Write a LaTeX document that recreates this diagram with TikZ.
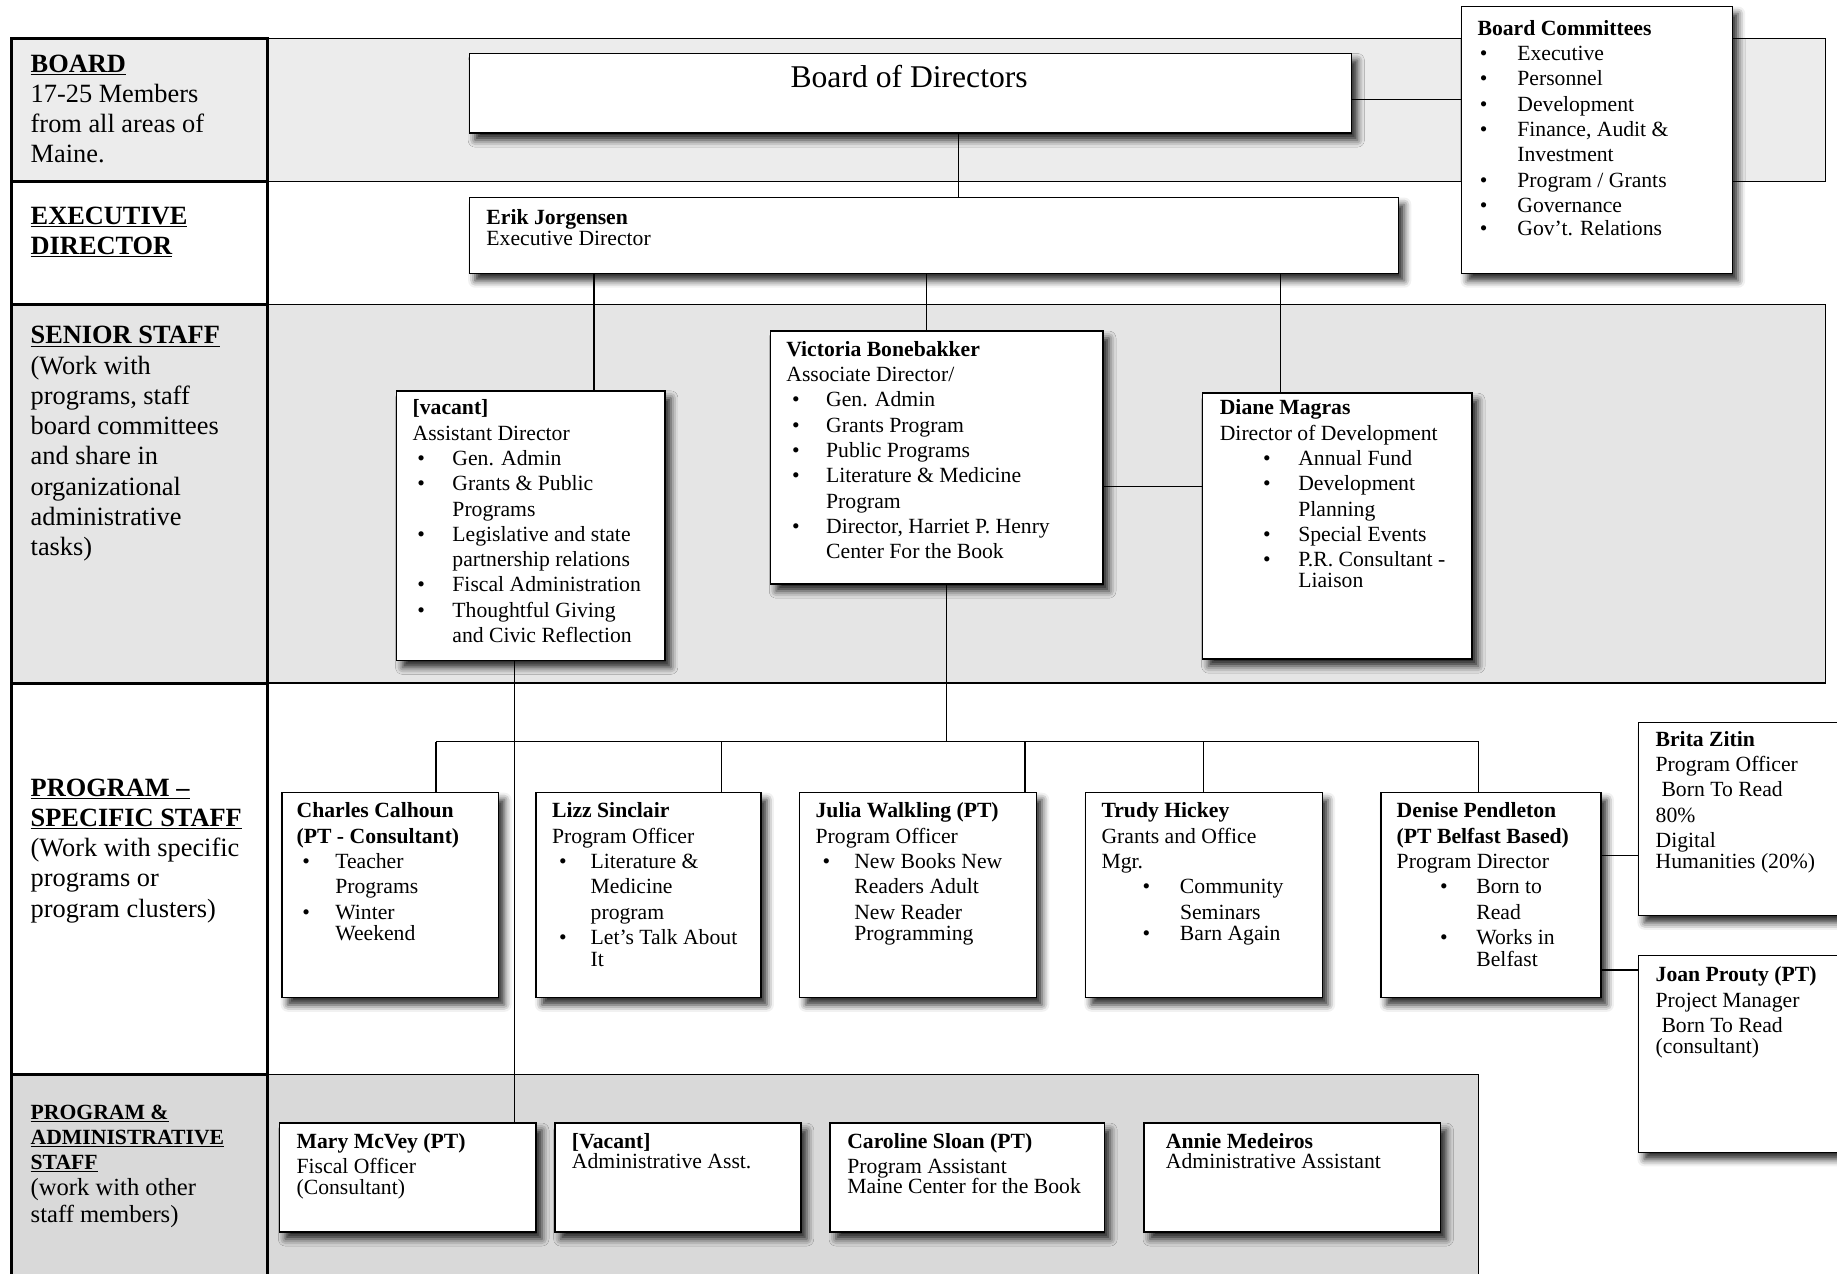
\documentclass[tikz,border=0pt]{standalone}
\usepackage{fontspec}
\setmainfont{Liberation Serif}
\usetikzlibrary{shadows,shadows.blur,calc}
\newcommand{\bu}[2]{\hspace*{#1pt}\makebox[\dimexpr#2pt-#1pt\relax][l]{\textbullet}}
\newcommand{\ii}[1]{\hspace*{#1pt}}
\tikzset{
  chartbox/.style={draw=black, line width=1.2pt, fill=white, rectangle, inner sep=0pt, anchor=north west,
    blur shadow={shadow xshift=5pt, shadow yshift=-6pt, shadow blur radius=6pt, shadow opacity=85}},
  boxtext/.style={anchor=north west, inner sep=0pt, align=left, font=\fontsize{18.5}{21.6}\selectfont},
  labeltext/.style={anchor=north west, inner sep=0pt, align=left, font=\fontsize{22.5}{25.8}\selectfont},
  conn/.style={line width=1.2pt},
  thickrule/.style={line width=2.6pt},
  rowrule/.style={line width=1.3pt},
}
\begin{document}
\begin{tikzpicture}[x=1pt,y=-1pt]
\useasboundingbox (0,0) rectangle (1568,1087);
% bands
\fill[gray!15] (10,33) rectangle (1558,155);
\fill[gray!20] (10,260) rectangle (1558,583);
\fill[gray!30] (10,917) rectangle (1262,1087);
% grid
\draw[rowrule] (228,33) -- (1558,33) -- (1558,155) -- (228,155);
\draw[rowrule] (228,260) -- (1558,260) -- (1558,583) -- (228,583);
\draw[rowrule] (228,917) -- (1262,917) -- (1262,1087);
\draw[thickrule] (10,1087) -- (10,33) -- (228,33) -- (228,1087);
\foreach \y in {155,260,583,917} \draw[thickrule] (10,\y) -- (228,\y);
% left labels
\node[labeltext] (lboard) at (26,46.5) {\textbf{\underline{BOARD}}\\17-25 Members\\from all areas of\\Maine.};
\node[labeltext] (lexec) at (26,176.5) {\textbf{\underline{EXECUTIVE}}\\\textbf{\underline{DIRECTOR}}};
\node[labeltext] (lsenior) at (26,278.5) {\textbf{\underline{SENIOR STAFF}}\\(Work with\\programs, staff\\board committees\\and share in\\organizational\\administrative\\tasks)};
\node[labeltext] (lprog) at (26,664.5) {\textbf{\underline{PROGRAM –}}\\\textbf{\underline{SPECIFIC STAFF}}\\(Work with specific\\programs or\\program clusters)};
\node[anchor=north west, inner sep=0pt, align=left, font=\fontsize{18.5}{21.5}\selectfont\bfseries] (ladminh) at (26,943) {\underline{PROGRAM \&}\\\underline{ADMINISTRATIVE}\\\underline{STAFF}};
\node[anchor=north west, inner sep=0pt, align=left, font=\fontsize{21}{23}\selectfont] (ladmind) at (26,1006) {(work with other\\staff members)};
% coordinates for connectors
\coordinate (xa) at (818,0);
\coordinate (yc) at (0,85);
\coordinate (xe1) at (507,0);
\coordinate (xe2) at (791,0);
\coordinate (xe3) at (1093,0);
\coordinate (yvd) at (0,415);
\coordinate (xm) at (439,0);
\coordinate (xv) at (808,0);
\coordinate (bar) at (0,633);
\coordinate (xc) at (372,0);
\coordinate (xl) at (616,0);
\coordinate (xj) at (875,0);
\coordinate (xt) at (1027,0);
\coordinate (xd) at (1262,0);
\coordinate (yb) at (0,730);
\coordinate (yj) at (0,828);
% boxes
\node[chartbox, minimum width=753pt, minimum height=68pt] (bod) at (400,45) {};
\node[chartbox, minimum width=793pt, minimum height=65pt] (exec) at (400,168) {};
\draw[conn] (bod.south -| xa) -- (exec.north -| xa);
\node[chartbox, minimum width=231pt, minimum height=228pt] (comm) at (1247,5) {};
\draw[conn] (bod.east |- yc) -- (comm.west |- yc);
\node[chartbox, minimum width=229pt, minimum height=230pt] (vacant) at (338,333) {};
\node[chartbox, minimum width=284pt, minimum height=216pt] (victoria) at (657,282) {};
\node[chartbox, minimum width=230pt, minimum height=227pt] (diane) at (1026,335) {};
\draw[conn] (exec.south -| xe1) -- (vacant.north -| xe1);
\draw[conn] (exec.south -| xe2) -- (victoria.north -| xe2);
\draw[conn] (exec.south -| xe3) -- (diane.north -| xe3);
\draw[conn] (victoria.east |- yvd) -- (diane.west |- yvd);
\node[chartbox, minimum width=185pt, minimum height=175pt] (charles) at (240,676) {};
\node[chartbox, minimum width=192pt, minimum height=175pt] (lizz) at (457,676) {};
\node[chartbox, minimum width=202pt, minimum height=175pt] (julia) at (682,676) {};
\node[chartbox, minimum width=202pt, minimum height=175pt] (trudy) at (926,676) {};
\node[chartbox, minimum width=188pt, minimum height=175pt] (denise) at (1178,676) {};
\node[chartbox, minimum width=200pt, minimum height=165pt] (brita) at (1398,616) {};
\node[chartbox, minimum width=200pt, minimum height=168pt] (joan) at (1398,815) {};
\node[chartbox, minimum width=219pt, minimum height=93pt] (mary) at (238,958) {};
\node[chartbox, minimum width=210pt, minimum height=93pt] (vacant2) at (473,958) {};
\node[chartbox, minimum width=234pt, minimum height=93pt] (caroline) at (708,958) {};
\node[chartbox, minimum width=253pt, minimum height=93pt] (annie) at (976,958) {};
\draw[conn] (victoria.south -| xv) -- (xv |- bar);
\draw[conn] (xc |- bar) -- (xd |- bar);
\draw[conn] (xc |- bar) -- (charles.north -| xc);
\draw[conn] (xl |- bar) -- (lizz.north -| xl);
\draw[conn] (xj |- bar) -- (julia.north -| xj);
\draw[conn] (xt |- bar) -- (trudy.north -| xt);
\draw[conn] (xd |- bar) -- (denise.north -| xd);
\draw[conn] (vacant.south -| xm) -- (mary.north -| xm);
\draw[conn] (denise.east |- yb) -- (brita.west |- yb);
\draw[conn] (denise.east |- yj) -- (joan.west |- yj);
% box texts
\node[font=\fontsize{27}{30}\selectfont] (bodT) at (776,65) {Board of Directors};
\node[boxtext] (commT) at (1261,17) {\textbf{Board Committees}\\\bu{2}{34}Executive\\\bu{2}{34}Personnel\\\bu{2}{34}Development\\\bu{2}{34}Finance, Audit \&\\\ii{34}Investment\\\bu{2}{34}Program / Grants\\\bu{2}{34}Governance\\[-2pt]\bu{2}{34}Gov’t. Relations};
\node[boxtext] (execT) at (415,179) {\textbf{Erik Jorgensen}\\[-4.5pt]Executive Director};
\node[boxtext] (vacantT) at (352,341) {\textbf{[vacant]}\\Assistant Director\\\bu{4}{34}Gen. Admin\\\bu{4}{34}Grants \& Public\\\ii{34}Programs\\\bu{4}{34}Legislative and state\\\ii{34}partnership relations\\\bu{4}{34}Fiscal Administration\\\bu{4}{34}Thoughtful Giving\\\ii{34}and Civic Reflection};
\node[boxtext] (victoriaT) at (671,291) {\textbf{Victoria Bonebakker}\\Associate Director/\\\bu{5}{34}Gen. Admin\\\bu{5}{34}Grants Program\\\bu{5}{34}Public Programs\\\bu{5}{34}Literature \& Medicine\\\ii{34}Program\\\bu{5}{34}Director, Harriet P. Henry\\\ii{34}Center For the Book};
\node[boxtext] (dianeT) at (1041,341) {\textbf{Diane Magras}\\Director of Development\\\bu{37}{67}Annual Fund\\\bu{37}{67}Development\\\ii{67}Planning\\\bu{37}{67}Special Events\\\bu{37}{67}P.R. Consultant -\\[-4pt]\ii{67}Liaison};
\node[boxtext] (charlesT) at (253,685) {\textbf{Charles Calhoun}\\\textbf{(PT - Consultant)}\\\bu{5}{33}Teacher\\\ii{33}Programs\\\bu{5}{33}Winter\\[-3.5pt]\ii{33}Weekend};
\node[boxtext] (lizzT) at (471,685) {\textbf{Lizz Sinclair}\\Program Officer\\\bu{6}{33}Literature \&\\\ii{33}Medicine\\\ii{33}program\\\bu{6}{33}Let’s Talk About\\[-3pt]\ii{33}It};
\node[boxtext] (juliaT) at (696,685) {\textbf{Julia Walkling (PT)}\\Program Officer\\\bu{6}{33}New Books New\\\ii{33}Readers Adult\\\ii{33}New Reader\\[-3.5pt]\ii{33}Programming};
\node[boxtext] (trudyT) at (940,685) {\textbf{Trudy Hickey}\\Grants and Office\\Mgr.\\\bu{35}{67}Community\\\ii{67}Seminars\\[-3.5pt]\bu{35}{67}Barn Again};
\node[boxtext] (deniseT) at (1192,685) {\textbf{Denise Pendleton}\\\textbf{(PT Belfast Based)}\\Program Director\\\bu{37}{68}Born to\\\ii{68}Read\\\bu{37}{68}Works in\\[-3pt]\ii{68}Belfast};
\node[boxtext] (britaT) at (1413,624) {\textbf{Brita Zitin}\\Program Officer\\\ii{5}Born To Read\\80\%\\Digital\\[-4pt]Humanities (20\%)};
\node[boxtext] (joanT) at (1413,825) {\textbf{Joan Prouty (PT)}\\Project Manager\\\ii{5}Born To Read\\[-4pt](consultant)};
\node[boxtext] (maryT) at (253,967) {\textbf{Mary McVey (PT)}\\Fiscal Officer\\[-4pt](Consultant)};
\node[boxtext] (vacant2T) at (488,967) {\textbf{[Vacant]}\\[-4pt]Administrative Asst.};
\node[boxtext] (carolineT) at (723,967) {\textbf{Caroline Sloan (PT)}\\Program Assistant\\[-4.5pt]Maine Center for the Book};
\node[boxtext] (annieT) at (995,967) {\textbf{Annie Medeiros}\\[-4pt]Administrative Assistant};
\end{tikzpicture}
\end{document}
